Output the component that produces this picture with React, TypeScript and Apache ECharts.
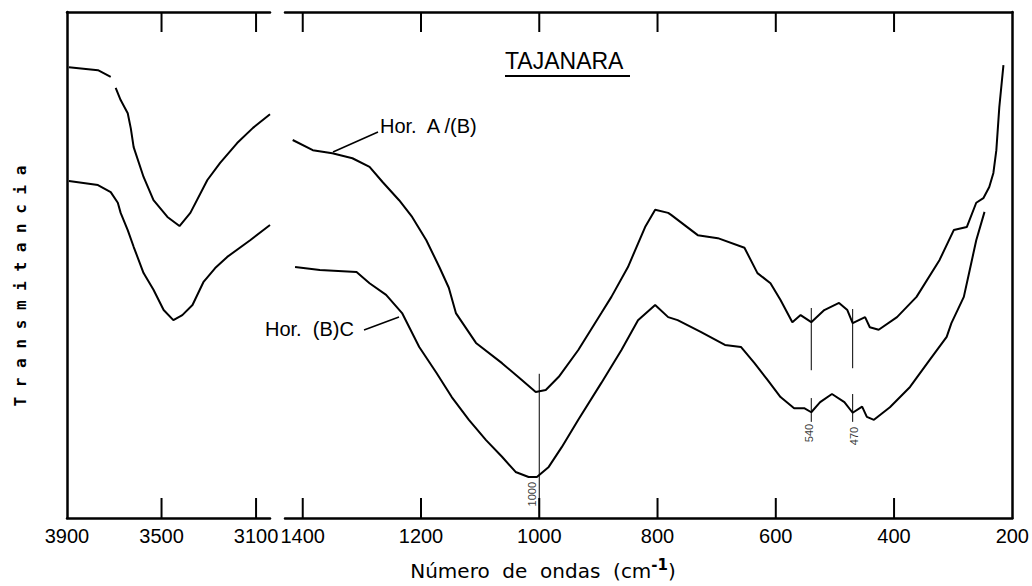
import React, { useEffect, useRef } from "react";
import * as echarts from "echarts";

// Tick values
const leftLabelTicks = [3900, 3500, 3100];
const leftTickMarks = [3500, 3100];
const rightLabelTicks = [1400, 1200, 1000, 800, 600, 400, 200];
const rightTickMarks = [1400, 1200, 1000, 800, 600, 400];

// Left panel (3900-3040 cm-1), Hor. A/(B)  (null = pen break)
const leftAWn = [3892, 3769, 3715, 3704, 3694, 3673, 3643, 3630, 3618, 3576, 3534, 3475, 3424, 3378, 3306, 3252, 3180, 3113, 3041];
const leftAT = [89.1, 88.5, 87.2, null, 85.0, 82.6, 80.0, 77.0, 73.3, 67.4, 62.8, 59.5, 57.7, 60.3, 66.8, 70.2, 74.1, 77.1, 79.8];
// Left panel, Hor. (B)C
const leftBWn = [3892, 3769, 3715, 3685, 3673, 3643, 3618, 3576, 3534, 3491, 3450, 3412, 3369, 3323, 3273, 3222, 3125, 3041];
const leftBT = [66.6, 65.8, 64.4, 62.3, 60.3, 56.9, 53.6, 48.4, 45.1, 41.1, 39.1, 40.1, 42.1, 46.6, 49.4, 51.6, 54.9, 57.9];

// Right panel (1430-200 cm-1), Hor. A/(B)
const rightAWn = [1417, 1383, 1350, 1316, 1287, 1265, 1237, 1215, 1191, 1169, 1153, 1141, 1107, 1063, 1030, 1006, 989, 967, 934, 895, 878, 850, 821, 804, 782, 777, 732, 698, 653, 631, 609, 592, 572, 558, 540, 518, 493, 479, 470, 449, 441, 426, 395, 362, 323, 299, 277, 261, 249, 239, 232, 227, 222, 215];
const rightAT = [74.7, 72.7, 72.1, 71.1, 69.4, 66.4, 62.8, 59.5, 54.9, 49.6, 45.5, 40.5, 34.6, 30.6, 27.3, 24.9, 25.3, 27.9, 33.2, 40.5, 43.7, 49.6, 57.5, 60.9, 60.3, 59.9, 55.9, 55.3, 53.4, 48.4, 46.4, 43.1, 38.7, 40.1, 38.7, 41.1, 42.5, 41.1, 38.5, 39.7, 37.7, 37.2, 39.7, 43.7, 51.0, 56.9, 57.5, 62.3, 63.2, 65.4, 68.2, 72.7, 81.2, 89.5];
// Right panel, Hor. (B)C
const rightBWn = [1413, 1371, 1309, 1287, 1259, 1232, 1203, 1174, 1148, 1119, 1090, 1063, 1040, 1018, 1004, 984, 962, 934, 895, 861, 833, 804, 782, 766, 727, 686, 659, 636, 614, 592, 569, 552, 540, 525, 505, 484, 470, 454, 446, 434, 407, 373, 340, 311, 303, 282, 272, 261, 247];
const rightBT = [49.6, 49.0, 48.6, 46.4, 44.1, 40.5, 33.8, 28.7, 23.9, 19.4, 15.4, 12.1, 9.1, 8.1, 8.1, 10.1, 14.0, 19.4, 26.7, 33.2, 39.1, 42.1, 39.7, 39.1, 36.8, 34.2, 33.8, 30.6, 27.3, 23.9, 21.7, 21.7, 20.9, 22.9, 24.5, 22.9, 20.8, 22.0, 20.0, 19.4, 21.9, 25.9, 31.2, 35.8, 38.5, 43.7, 49.0, 54.9, 60.5];

// Band annotations
const bandWn = [1000, 540, 470];
const bandLabels = ["1000", "540", "470"];
const bandLabelWn = [1013, 543, 468];
const bandLabelT = [4.7, 16.8, 16.2];
const bandSegments: [number, number, number][] = [
  [1000, 28.5, 0],
  [540, 41.5, 29.2],
  [540, 23.7, 19.0],
  [470, 41.3, 29.6],
  [470, 24.5, 19.0],
];

const Y_MIN = 0;
const Y_MAX = 100;
const TICK_PX = 20;

const zip = (xs: number[], ys: (number | null)[]) => xs.map((x, i) => [x, ys[i] === null ? "-" : ys[i]]);

const AXIS_W = 2.5;
const TICK_FONT = "Liberation Sans";

const GRIDS = [
  { left: 67, right: 762, top: 12, bottom: 68, xMin: 3041, xMax: 3900 },
  { left: 285, right: 16, top: 12, bottom: 68, xMin: 200, xMax: 1430 },
];
const W = 1032;
const H = 586;

export default function App() {
  const ref = useRef<HTMLDivElement>(null);

  useEffect(() => {
    if (!ref.current) return;
    const chart = echarts.init(ref.current, undefined, { renderer: "svg" });

    const axisCommon = (gridIndex: number, position: "top" | "bottom", labels: number[] | null) => ({
      type: "value",
      gridIndex,
      position,
      inverse: true,
      min: GRIDS[gridIndex].xMin,
      max: GRIDS[gridIndex].xMax,
      axisLine: { show: true, onZero: false, lineStyle: { color: "#000", width: AXIS_W } },
      axisTick: { show: false },
      axisLabel: labels
        ? { show: true, customValues: labels, color: "#000", fontSize: 20, fontFamily: TICK_FONT, margin: 8, formatter: (v: number) => String(v) }
        : { show: false },
      splitLine: { show: false },
    });

    const yCommon = (gridIndex: number, position: "left" | "right") => ({
      type: "value",
      gridIndex,
      position,
      min: Y_MIN,
      max: Y_MAX,
      axisLine: { show: true, lineStyle: { color: "#000", width: AXIS_W } },
      axisTick: { show: false },
      axisLabel: { show: false },
      splitLine: { show: false },
    });

    const curve = (data: any[], xi: number, yi: number, width = 2) => ({
      type: "line",
      xAxisIndex: xi,
      yAxisIndex: yi,
      data,
      showSymbol: false,
      symbol: "none",
      connectNulls: false,
      lineStyle: { color: "#000", width },
      silent: true,
    });

    const bandData = bandSegments.flatMap(([wn, a, b]) => [
      [wn, a],
      [wn, b],
      [wn, "-"],
    ]);

    const texts: any[] = [
      {
        type: "text",
        x: 20,
        y: 286,
        rotation: Math.PI / 2,
        style: {
          text: "T r a n s m i t a n c i a",
          fontSize: 16,
          fontWeight: "bold",
          fontFamily: "DejaVu Sans Mono",
          fill: "#000",
          align: "center",
          verticalAlign: "middle",
        },
      },
      {
        type: "text",
        x: 543,
        y: 571,
        style: {
          text: "Número  de  ondas  (cm{s|-1})",
          fontSize: 20,
          fontFamily: "DejaVu Sans",
          fill: "#000",
          align: "center",
          verticalAlign: "middle",
          rich: {
            s: { fontSize: 15, fontWeight: "bold", fontFamily: "DejaVu Sans", verticalAlign: "top", padding: [0, 0, 12, 0], fill: "#000" },
          },
        },
      },
      {
        type: "text",
        x: 505,
        y: 61,
        style: { text: "TAJANARA", fontSize: 23, fontFamily: "Liberation Sans", fill: "#000", align: "left", verticalAlign: "middle" },
      },
      { type: "line", shape: { x1: 505, y1: 76, x2: 630, y2: 76 }, style: { stroke: "#000", lineWidth: 2 } },
      {
        type: "text",
        x: 380,
        y: 126,
        style: { text: "Hor.  A /(B)", fontSize: 20, fontFamily: "Liberation Sans", fill: "#000", align: "left", verticalAlign: "middle" },
      },
      { type: "line", shape: { x1: 333, y1: 152, x2: 378, y2: 132 }, style: { stroke: "#000", lineWidth: 1.5 } },
      {
        type: "text",
        x: 265,
        y: 329,
        style: { text: "Hor.  (B)C", fontSize: 20, fontFamily: "Liberation Sans", fill: "#000", align: "left", verticalAlign: "middle" },
      },
      { type: "line", shape: { x1: 364, y1: 330, x2: 399, y2: 317 }, style: { stroke: "#000", lineWidth: 1.5 } },
    ];

    const option: any = {
      animation: false,
      backgroundColor: "#fff",
      grid: GRIDS.map((g) => ({ left: g.left, right: g.right, top: g.top, bottom: g.bottom })),
      xAxis: [axisCommon(0, "bottom", leftLabelTicks), axisCommon(0, "top", null), axisCommon(1, "bottom", rightLabelTicks), axisCommon(1, "top", null)],
      yAxis: [yCommon(0, "left"), yCommon(1, "right")],
      series: [
        curve(zip(leftAWn, leftAT), 0, 0),
        curve(zip(leftBWn, leftBT), 0, 0),
        curve(zip(rightAWn, rightAT), 2, 1),
        curve(zip(rightBWn, rightBT), 2, 1),
        curve(bandData, 2, 1, 1),
        {
          type: "scatter",
          xAxisIndex: 2,
          yAxisIndex: 1,
          symbolSize: 1,
          itemStyle: { color: "rgba(0,0,0,0)" },
          silent: true,
          data: bandLabelWn.map((wn, i) => [wn, bandLabelT[i], bandLabels[i], bandWn[i]]),
          label: {
            show: true,
            position: "inside",
            rotate: 90,
            color: "#000",
            fontSize: 11,
            fontFamily: TICK_FONT,
            formatter: (p: any) => p.value[2],
          },
        },
      ],
    };

    chart.setOption(option);

    // Tick marks: pixel position from the axis scale (with a geometric fallback)
    const tickEls: any[] = [];
    const addTicks = (ticks: number[], gi: number, xAxisIndex: number, yAxisIndex: number) => {
      const g = GRIDS[gi];
      const x0 = g.left;
      const x1 = W - g.right;
      const yBottom = H - g.bottom;
      const yTop = g.top;
      ticks.forEach((t) => {
        let px = NaN;
        try {
          const r: any = chart.convertToPixel({ xAxisIndex, yAxisIndex } as any, [t, Y_MIN]);
          px = Array.isArray(r) ? Number(r[0]) : Number(r);
        } catch (e) {
          px = NaN;
        }
        if (!isFinite(px)) {
          // inverse axis: xMax at left edge
          px = x0 + ((g.xMax - t) / (g.xMax - g.xMin)) * (x1 - x0);
        }
        tickEls.push({ type: "rect", z: 100, silent: true, shape: { x: px - 1, y: yBottom - TICK_PX, width: 2, height: TICK_PX }, style: { fill: "#000" } });
        tickEls.push({ type: "rect", z: 100, silent: true, shape: { x: px - 1, y: yTop, width: 2, height: TICK_PX }, style: { fill: "#000" } });
      });
    };
    addTicks(leftTickMarks, 0, 0, 0);
    addTicks(rightTickMarks, 1, 2, 1);

    chart.setOption({ graphic: { elements: [...texts, ...tickEls] } });
    return () => chart.dispose();
  }, []);

  return <div ref={ref} style={{ position: "fixed", left: 0, top: 0, width: W, height: H, background: "#fff" }} />;
}
